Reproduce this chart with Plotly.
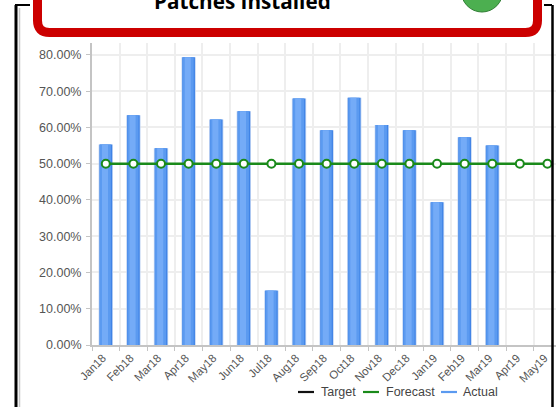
import plotly.graph_objects as go

months = ["Jan18","Feb18","Mar18","Apr18","May18","Jun18","Jul18","Aug18","Sep18","Oct18","Nov18","Dec18","Jan19","Feb19","Mar19","Apr19","May19"]
actual = [55.3,63.4,54.3,79.4,62.2,64.5,15.0,68.0,59.2,68.2,60.7,59.2,39.4,57.3,55.0,None,None]
forecast = [50]*17
yticks = [0,10,20,30,40,50,60,70,80]
ylabels = ["0.00%","10.00%","20.00%","30.00%","40.00%","50.00%","60.00%","70.00%","80.00%"]
legend_names = ["Target","Forecast","Actual"]
legend_colors = ["#111111","#1a8a1a","#5b9af0"]

W, H = 556, 407
L, R, T, B = 92, 0, 43, 62
PW, PH = W-L-R, H-T-B
def px(x): return (x-L)/PW
def py(y): return 1-(y-T)/PH

fig = go.Figure()
layers = [(0.52,"#c3d6f3",0),(0.46,"#3f83e6",0),(0.40,"#5b9af0",-0.015),(0.22,"#74abf7",-0.03)]
for w,c,off in layers:
    fig.add_bar(x=list(range(17)), y=actual, width=w, offset=-w/2+off, marker=dict(color=c,line_width=0),
                showlegend=False, hoverinfo="skip", name="Actual")
fig.add_scatter(x=list(range(17)), y=forecast, mode="lines+markers", name="Forecast",
                line=dict(color="#1a8a1a",width=2.4),
                marker=dict(size=8,color="white",line=dict(color="#1a8a1a",width=2)), cliponaxis=False, showlegend=False)

shapes = []
def line(x0,y0,x1,y1,c,w):
    shapes.append(dict(type="line",xref="paper",yref="paper",x0=px(x0),y0=py(y0),x1=px(x1),y1=py(y1),line=dict(color=c,width=w),layer="above"))
line(19.5,8,19.5,407,"#c8c8c8",1.5)
line(16,5,16,407,"#000000",3)
line(15,5,30,5,"#000000",2)
line(544,5,552,5,"#000000",2)
line(552.5,5,552.5,407,"#000000",2.5)
r = 12
x0,x1,y0,y1 = px(37.5),px(537.5),py(-20),py(32.5)
rx,ry = r/PW, r/PH
shapes.append(dict(type="path",xref="paper",yref="paper",
    path=f"M {x0} {y0} L {x0} {y1+ry} Q {x0} {y1} {x0+rx} {y1} L {x1-rx} {y1} Q {x1} {y1} {x1} {y1+ry} L {x1} {y0} Z",
    fillcolor="white",line=dict(color="#cc0000",width=9),layer="above"))
shapes.append(dict(type="circle",xref="paper",yref="paper",x0=px(461),x1=px(503),y0=py(-31),y1=py(12),
    fillcolor="#4caf50",line=dict(color="#2e7d32",width=1),layer="above"))

annotations = [dict(text="<b>Patches Installed</b>",xref="paper",yref="paper",x=px(242),y=py(17),
                    xanchor="center",yanchor="bottom",showarrow=False,
                    font=dict(family="Open Sans, sans-serif",size=20.7,color="#000000"))]
swatch_x = [298,363,441]
text_x = [319,384,461]
for n,c,sx,tx in zip(legend_names,legend_colors,swatch_x,text_x):
    line(sx,392,sx+16,392,c,2.2)
    annotations.append(dict(text=n,xref="paper",yref="paper",x=px(tx),y=py(392),xanchor="left",yanchor="middle",
                            showarrow=False,font=dict(size=12.5,color="#444444")))

fig.update_layout(width=W,height=H,margin=dict(l=L,r=R,t=T,b=B,autoexpand=False),
    paper_bgcolor="white",plot_bgcolor="white",barmode="overlay",shapes=shapes,showlegend=False,
    font=dict(family="Liberation Sans, Arial, sans-serif",size=11,color="#444444"),
    annotations=annotations,
    xaxis=dict(range=[-0.5,16.31],tickmode="array",tickvals=list(range(17)),ticktext=months,tickangle=-45,
               showgrid=False,ticks="",showline=True,linecolor="#c4c4c4",linewidth=1.5,
               minor=dict(tickvals=[i-0.5 for i in range(18)],showgrid=True,gridcolor="#eeeeee",gridwidth=1.5,ticks="outside",ticklen=4,tickcolor="#c4c4c4"),
               tickfont=dict(size=11.5,color="#555555"),zeroline=False,ticklabelshift=-3,ticklabelstandoff=0),
    yaxis=dict(range=[0,83.3],tickmode="array",tickvals=yticks,ticktext=ylabels,showgrid=True,gridcolor="#eeeeee",gridwidth=1.5,
               ticks="outside",ticklen=4,tickcolor="#c4c4c4",showline=True,linecolor="#c4c4c4",linewidth=2,zeroline=False,
               tickfont=dict(size=12.5,color="#555555"),ticklabelstandoff=2))
fig.write_html("out.html",config=dict(displayModeBar=False),
               post_script="document.body.style.margin='0';document.documentElement.style.overflow='hidden';")
